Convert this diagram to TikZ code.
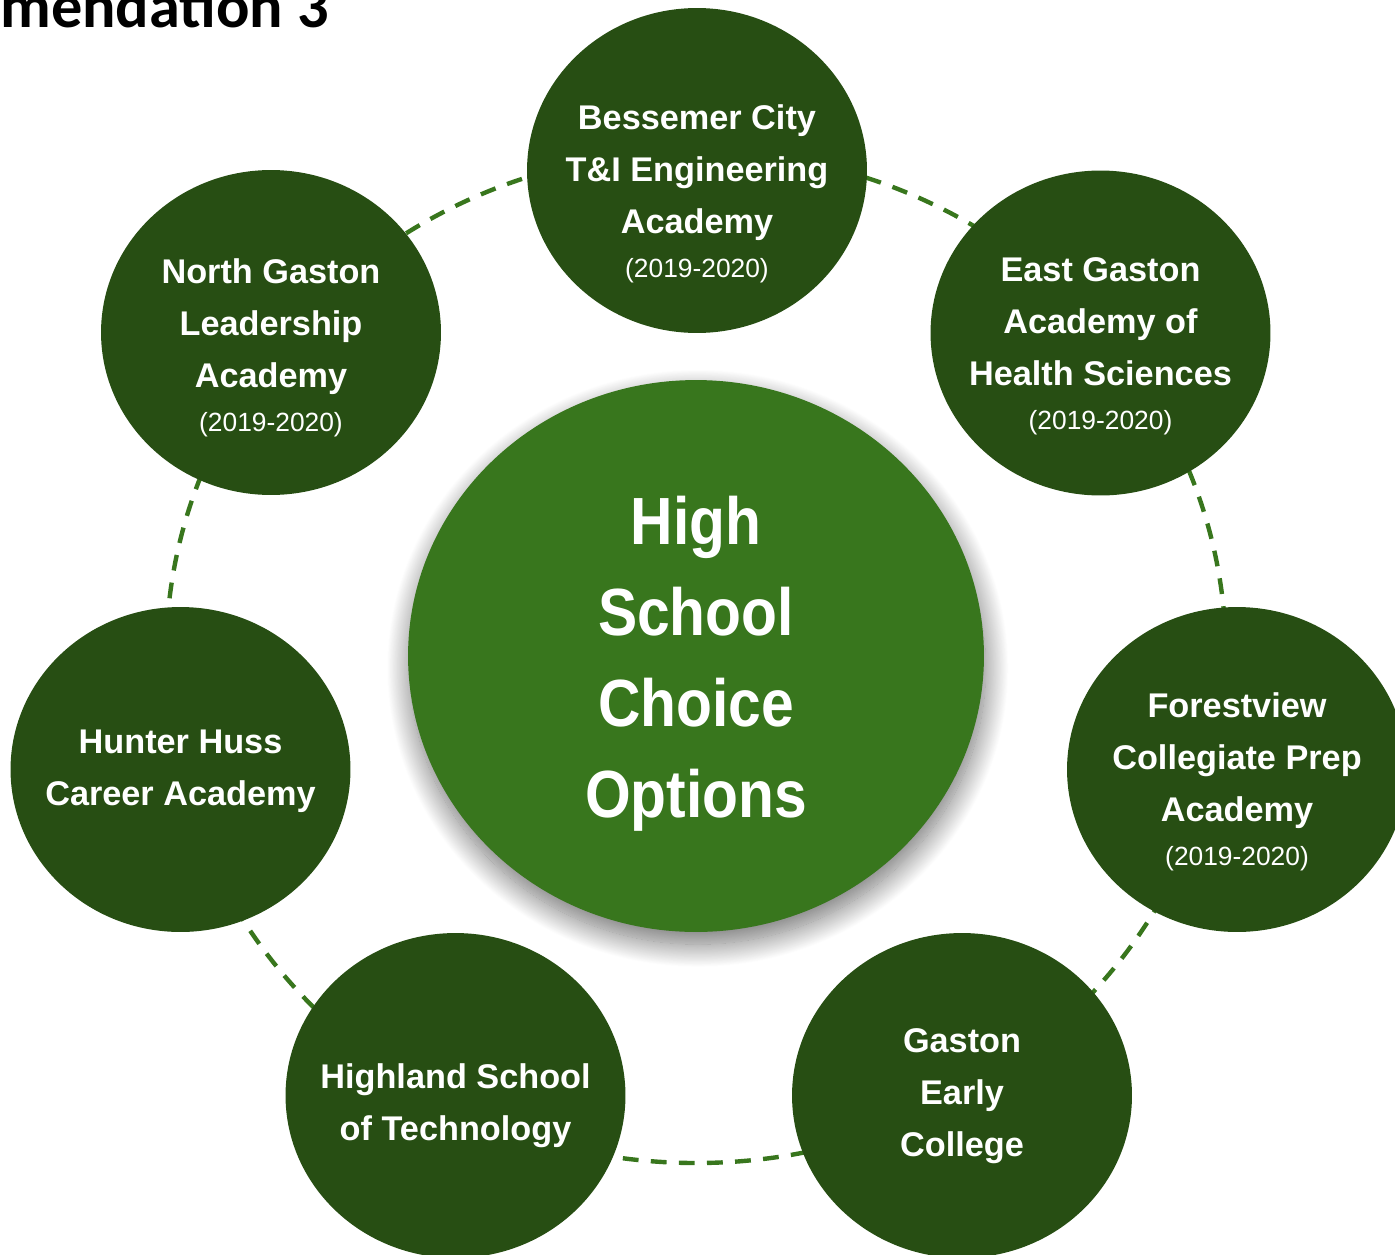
\documentclass[tikz,border=0pt]{standalone}
\usepackage{fontspec}
\setmainfont{Liberation Sans}
\newfontfamily\hubfont[FakeStretch=0.88]{Liberation Sans}
\newfontfamily\headfont{Carlito}
\usetikzlibrary{shapes.geometric, shadows.blur}

\definecolor{darkgreen}{HTML}{274E13}
\definecolor{midgreen}{HTML}{38761D}

\tikzset{
  school/.style={ellipse, fill=darkgreen, minimum width=6.8cm, minimum height=6.5cm, inner sep=0pt},
  hub/.style={ellipse, fill=midgreen, minimum width=11.52cm, minimum height=11.04cm, inner sep=0pt,
    blur shadow={shadow xshift=1pt, shadow yshift=-7pt, shadow blur radius=13pt, shadow blur steps=30, shadow opacity=55}},
  schooltext/.style={text=white, align=center, font=\bfseries\fontsize{19.5}{29.6}\selectfont},
  hubtext/.style={text=white, align=center, font=\hubfont\bfseries\fontsize{38}{51.8}\selectfont},
  ring/.style={draw=midgreen, line width=2.5pt, dash pattern=on 9pt off 7pt},
}
\newcommand{\schoolyear}{\\[-4.6pt]{\mdseries\fontsize{15}{18}\selectfont (2019-2020)}}

\begin{document}
\begin{tikzpicture}[x=0.02cm, y=-0.02cm]
  \useasboundingbox (0,0) rectangle (1395,1254);
  \node[anchor=base west, inner sep=0pt, font=\headfont\bfseries\fontsize{35.5}{40}\selectfont] (title) at (0,28) {mendation 3};

  % dashed ring behind the schools
  \draw[ring] (696,657) ellipse [x radius=530, y radius=506];

  \node[hub] (hub) at (696,656) {};
  \node[hubtext] (hub-t) at (696,664) {High\\School\\Choice\\Options};

  \node[school] (bessemer) at (697,170.5) {};
  \node[school] (northgaston) at (271,332.5) {};
  \node[school] (eastgaston) at (1100.5,333) {};
  \node[school] (forestview) at (1237,769.5) {};
  \node[school] (hunterhuss) at (180.5,769.5) {};
  \node[school] (highland) at (455.5,1095.5) {};
  \node[school] (earlycollege) at (962,1095.5) {};

  \node[schooltext] (bessemer-t) at (697,193.8) {Bessemer City\\T\&I Engineering\\Academy\schoolyear};
  \node[schooltext] (northgaston-t) at (271,347.8) {North Gaston\\Leadership\\Academy\schoolyear};
  \node[schooltext] (eastgaston-t) at (1100.5,345.8) {East Gaston\\Academy of\\Health Sciences\schoolyear};
  \node[schooltext] (forestview-t) at (1237,781.8) {Forestview\\Collegiate Prep\\Academy\schoolyear};
  \node[schooltext] (hunterhuss-t) at (180.5,771) {Hunter Huss\\Career Academy};
  \node[schooltext] (highland-t) at (455.5,1106) {Highland School\\of Technology};
  \node[schooltext] (earlycollege-t) at (962,1096) {Gaston\\Early\\College};
\end{tikzpicture}
\end{document}
